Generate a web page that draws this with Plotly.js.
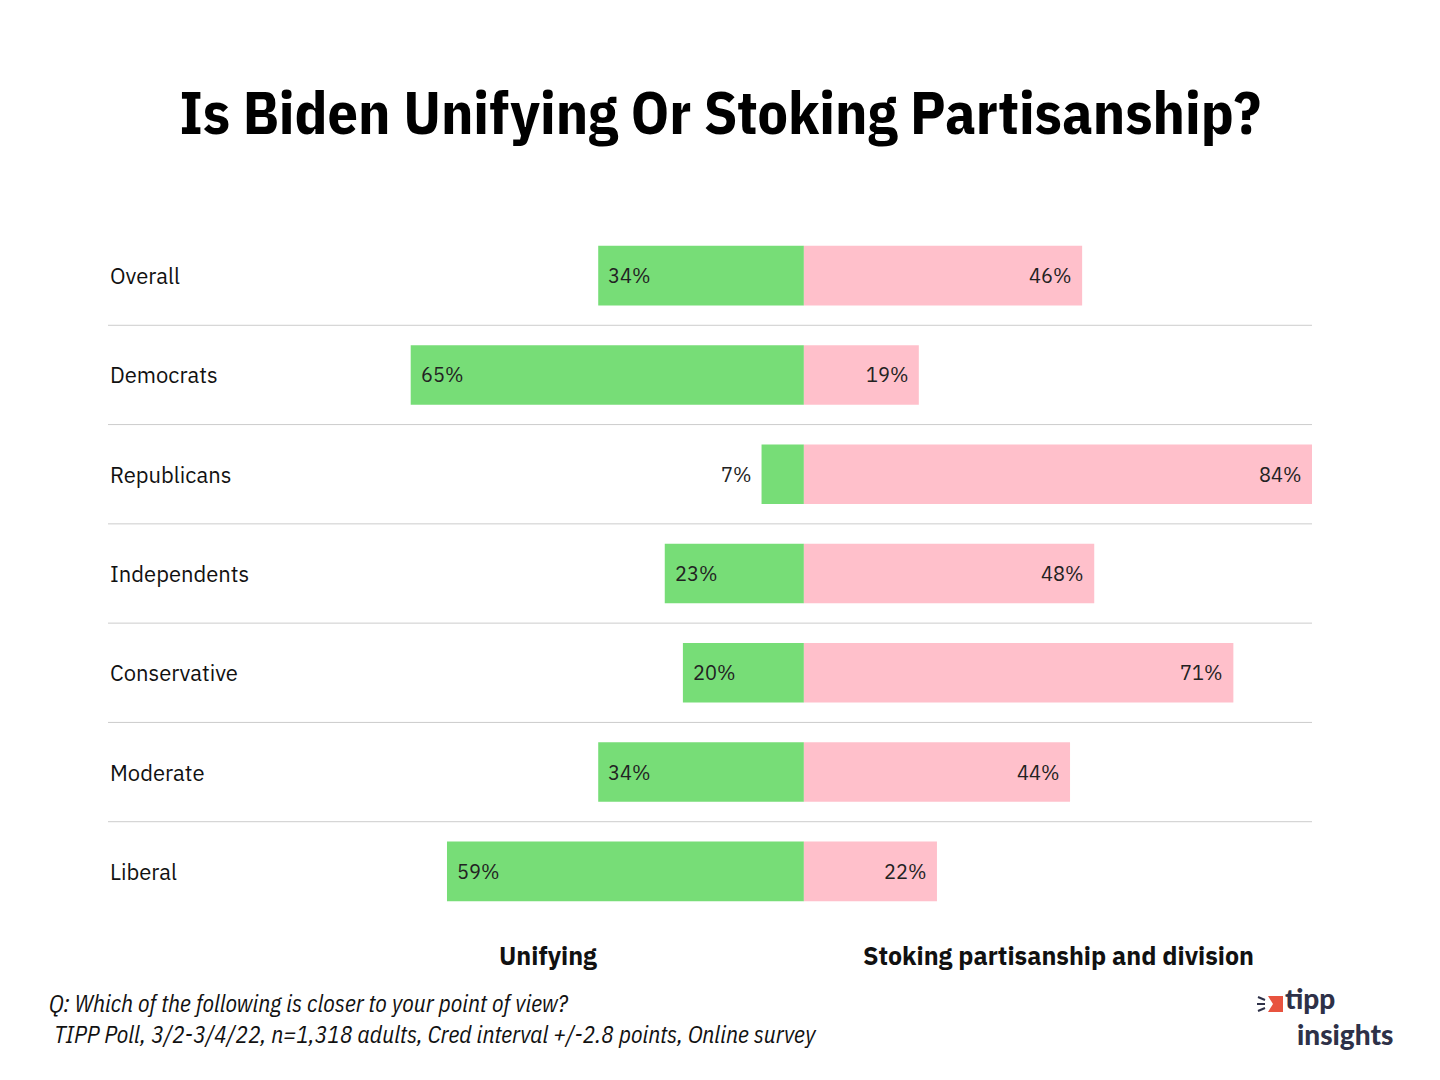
<!DOCTYPE html>
<html>
<head>
<meta charset="utf-8">
<script src="https://cdn.plot.ly/plotly-3.0.1.min.js"></script>
<style>html,body{margin:0;padding:0;background:#fff;}#chart{width:1440px;height:1080px;}</style>
</head>
<body>
<div id="chart"></div>
<script>
const categories = ["Overall", "Democrats", "Republicans", "Independents", "Conservative", "Moderate", "Liberal"];
const unifying = [34, 65, 7, 23, 20, 34, 59];
const stoking = [46, 19, 84, 48, 71, 44, 22];
const seriesNames = ["Unifying", "Stoking partisanship and division"];
const titleText = "Is Biden Unifying Or Stoking Partisanship?";
const noteLines = ["Q: Which of the following is closer to your point of view?", " TIPP Poll, 3/2-3/4/22, n=1,318 adults, Cred interval +/-2.8 points, Online survey"];

const FONT = "'IBM Plex Sans Condensed', 'Liberation Sans Narrow', 'DejaVu Sans Condensed', Roboto, sans-serif";
const LFONT = "'IBM Plex Sans', Roboto, 'Noto Sans', sans-serif";
const LOGOFONT = "Lato, Roboto, sans-serif";

// plot area: x 108..1312, y 226..921
const px = x => (x - 108) / 1204;
const py = y => (921 - y) / 695;

const traces = [
  {
    type: "bar", orientation: "h", name: seriesNames[0],
    y: categories, x: unifying.map(v => -v),
    marker: {color: "#77DD77"}, width: 0.6, hoverinfo: "skip"
  },
  {
    type: "bar", orientation: "h", name: seriesNames[1],
    y: categories, x: stoking,
    marker: {color: "#FFC0CB"}, width: 0.6, hoverinfo: "skip"
  }
];

const shapes = [];
for (let i = 1; i < categories.length; i++) {
  shapes.push({type: "line", xref: "paper", yref: "y", x0: 0, x1: 1, y0: i - 0.5, y1: i - 0.5,
    line: {color: "#cccccc", width: 1}, layer: "below"});
}
// logo mark
shapes.push({type: "path", xref: "paper", yref: "paper",
  path: `M ${px(1268)} ${py(996)} L ${px(1283)} ${py(996)} L ${px(1283)} ${py(1012)} L ${px(1268)} ${py(1012)} L ${px(1273)} ${py(1004)} Z`,
  fillcolor: "#e8533f", line: {width: 0}});
[[1258, 997, 1265, 1000], [1257, 1004, 1265, 1004], [1258, 1011, 1265, 1008]].forEach(s => {
  shapes.push({type: "line", xref: "paper", yref: "paper", x0: px(s[0]), y0: py(s[1]), x1: px(s[2]), y1: py(s[3]),
    line: {color: "#2e3148", width: 2}});
});

const annotations = categories.map(c => ({
  xref: "paper", yref: "y", x: 0, y: c, xanchor: "left", yanchor: "middle",
  text: c, showarrow: false, font: {family: LFONT, size: 22, color: "#111"}
}));
// value labels
unifying.forEach((v, i) => {
  const inside = v >= 10;
  annotations.push({xref: "x", yref: "y", x: -v, y: categories[i], showarrow: false,
    xanchor: inside ? "left" : "right", xshift: inside ? 8 : -8, yanchor: "middle",
    text: v + "%", font: {family: LFONT, size: 20, color: "#222"}});
});
stoking.forEach((v, i) => {
  annotations.push({xref: "x", yref: "y", x: v, y: categories[i], showarrow: false,
    xanchor: "right", xshift: -8, yanchor: "middle",
    text: v + "%", font: {family: LFONT, size: 20, color: "#222"}});
});
annotations.push({xref: "paper", yref: "paper", x: px(548), y: py(956), xanchor: "center", yanchor: "middle",
  text: "<b>" + seriesNames[0] + "</b>", showarrow: false, font: {family: LFONT, size: 25, color: "#111"}});
annotations.push({xref: "paper", yref: "paper", x: px(1058), y: py(956), xanchor: "center", yanchor: "middle",
  text: "<b>" + seriesNames[1] + "</b>", showarrow: false, font: {family: LFONT, size: 25, color: "#111"}});
annotations.push({xref: "paper", yref: "paper", x: px(47), y: py(1018), xanchor: "left", yanchor: "middle", align: "left",
  text: "<i>" + noteLines[0] + "<br>" + noteLines[1] + "</i>", showarrow: false, font: {family: FONT, size: 23.5, color: "#111"}});
annotations.push({xref: "paper", yref: "paper", x: px(1284), y: py(1016), xanchor: "left", yanchor: "bottom",
  text: "tipp", showarrow: false, borderpad: 0, font: {family: LOGOFONT, size: 28, weight: 900, color: "#2e3148"}});
annotations.push({xref: "paper", yref: "paper", x: px(1296), y: py(1016), xanchor: "left", yanchor: "top",
  text: "insights", showarrow: false, borderpad: 0, font: {family: LOGOFONT, size: 28, weight: 900, color: "#2e3148"}});

const layout = {
  width: 1440, height: 1080,
  paper_bgcolor: "#fff", plot_bgcolor: "#fff",
  margin: {l: 108, r: 128, t: 226, b: 159, pad: 0},
  title: {text: "<b>" + titleText + "</b>", x: 0.5, xref: "container", xanchor: "center",
    y: 1 - 113 / 1080, yanchor: "middle", font: {family: FONT, size: 60, color: "#000"}},
  barmode: "relative",
  showlegend: false,
  xaxis: {range: [-696 / 6.05, 84], showgrid: false, zeroline: false, showticklabels: false, fixedrange: true},
  yaxis: {range: [6.5, -0.5], showgrid: false, zeroline: false, showticklabels: false, fixedrange: true},
  shapes: shapes,
  annotations: annotations,
  font: {family: LFONT}
};

Plotly.newPlot("chart", traces, layout, {displayModeBar: false, staticPlot: true});
</script>
</body>
</html>
